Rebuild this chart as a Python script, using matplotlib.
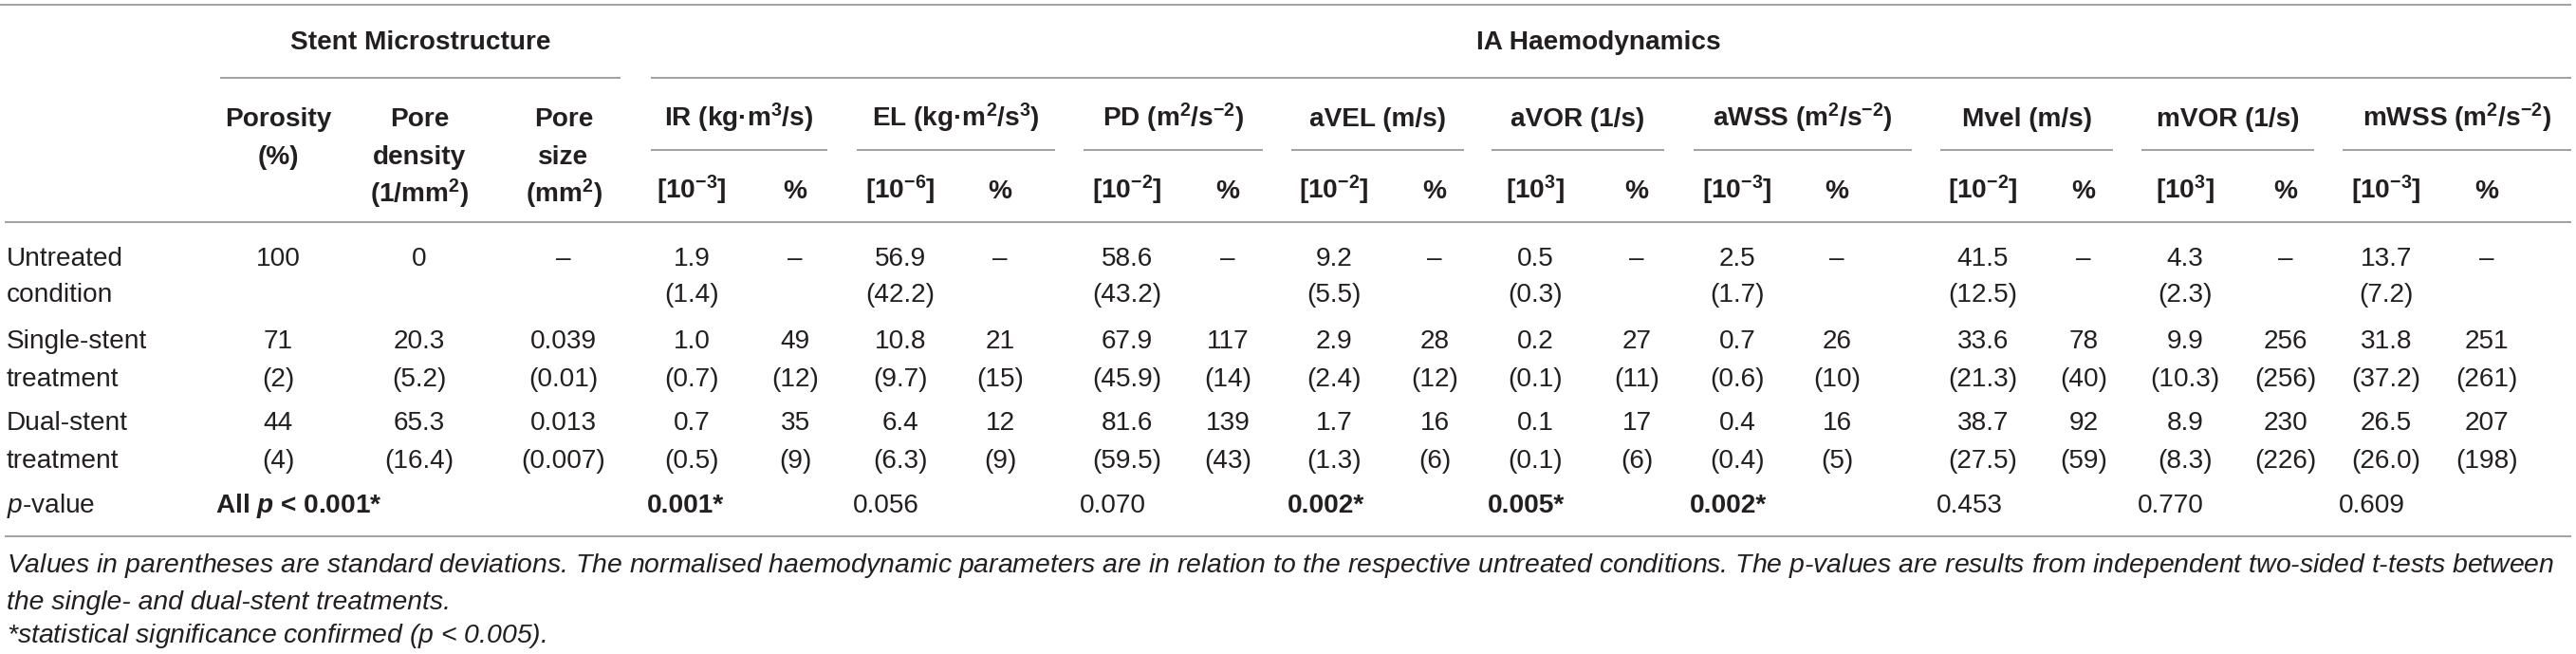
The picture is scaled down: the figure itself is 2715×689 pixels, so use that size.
import matplotlib
matplotlib.use('Agg')
import matplotlib.pyplot as plt

plt.rcParams['font.family'] = ['Liberation Sans', 'DejaVu Sans']
plt.rcParams['mathtext.fontset'] = 'custom'
plt.rcParams['mathtext.rm'] = 'Liberation Sans'
plt.rcParams['mathtext.it'] = 'Liberation Sans:italic'
plt.rcParams['mathtext.bf'] = 'Liberation Sans:bold'
if 'mathtext.bfit' in plt.rcParams:
    plt.rcParams['mathtext.bfit'] = 'Liberation Sans:italic:bold'

# ---- data ----
row_labels = [['Untreated', 'condition'], ['Single-stent', 'treatment'], ['Dual-stent', 'treatment']]

struct_heads = [['Porosity', '(%)'], ['Pore', 'density', '(1/mm$^{\\mathbf{2}}$)'], ['Pore', 'size', '(mm$^{\\mathbf{2}}$)']]
porosity = ['100', '71', '44']
porosity_sd = ['', '(2)', '(4)']
pore_density = ['0', '20.3', '65.3']
pore_density_sd = ['', '(5.2)', '(16.4)']
pore_size = ['\u2013', '0.039', '0.013']
pore_size_sd = ['', '(0.01)', '(0.007)']

params = ['IR (kg\u00b7m$^{\\mathbf{3}}$/s)', 'EL (kg\u00b7m$^{\\mathbf{2}}$/s$^{\\mathbf{3}}$)',
          'PD (m$^{\\mathbf{2}}$/s$^{\\mathbf{-2}}$)', 'aVEL (m/s)', 'aVOR (1/s)',
          'aWSS (m$^{\\mathbf{2}}$/s$^{\\mathbf{-2}}$)', 'Mvel (m/s)', 'mVOR (1/s)',
          'mWSS (m$^{\\mathbf{2}}$/s$^{\\mathbf{-2}}$)']
scales = ['-3', '-6', '-2', '-2', '3', '-3', '-2', '3', '-3']

untreated_mean = [1.9, 56.9, 58.6, 9.2, 0.5, 2.5, 41.5, 4.3, 13.7]
untreated_sd = [1.4, 42.2, 43.2, 5.5, 0.3, 1.7, 12.5, 2.3, 7.2]
single_mean = [1.0, 10.8, 67.9, 2.9, 0.2, 0.7, 33.6, 9.9, 31.8]
single_sd = [0.7, 9.7, 45.9, 2.4, 0.1, 0.6, 21.3, 10.3, 37.2]
single_pct = [49, 21, 117, 28, 27, 26, 78, 256, 251]
single_pct_sd = [12, 15, 14, 12, 11, 10, 40, 256, 261]
dual_mean = [0.7, 6.4, 81.6, 1.7, 0.1, 0.4, 38.7, 8.9, 26.5]
dual_sd = [0.5, 6.3, 59.5, 1.3, 0.1, 0.4, 27.5, 8.3, 26.0]
dual_pct = [35, 12, 139, 16, 17, 16, 92, 230, 207]
dual_pct_sd = [9, 9, 43, 6, 6, 5, 59, 226, 198]
p_values = ['0.001*', '0.056', '0.070', '0.002*', '0.005*', '0.002*', '0.453', '0.770', '0.609']

notes = ['Values in parentheses are standard deviations. The normalised haemodynamic parameters are in relation to the '
         'respective untreated conditions. The $\\mathit{p}$-values are results from independent two-sided t-tests between',
         'the single- and dual-stent treatments.',
         '*statistical significance confirmed ($\\mathit{p}$ < 0.005).']

# ---- layout (pixels) ----
W, H = 2715, 689
FS = 20.2
FS_NOTE = 20.4
TXT = '#231f20'
LINE = '#9a9a9a'
struct_x = [293, 442, 594]
val_x = [729, 949, 1188, 1406, 1618, 1831, 2090, 2303, 2515]
pct_x = [838, 1054, 1294, 1512, 1725, 1936, 2196, 2409, 2621]
under = [(686, 872), (903, 1112), (1142, 1331), (1361, 1543), (1572, 1754),
         (1785, 2015), (2045, 2227), (2257, 2439), (2469, 2710)]
row_y = [(270, 308), (357, 397), (443, 483)]
p_y = 530
off = 10  # centre -> baseline

fig = plt.figure(figsize=(W / 100, H / 100), dpi=100)
ax = fig.add_axes([0, 0, 1, 1])
ax.set_xlim(0, W)
ax.set_ylim(H, 0)
ax.axis('off')


def put(x, y, s, ha='center', bold=False, italic=False, size=FS):
    ax.text(x, y + off, s, ha=ha, va='baseline', fontsize=size, color=TXT,
            fontweight='bold' if bold else 'normal', fontstyle='italic' if italic else 'normal')


def hline(x0, x1, y):
    ax.plot([x0, x1], [y, y], color=LINE, lw=1.3, solid_capstyle='butt')


# rules
hline(0, 2710, 5)
hline(232, 654, 82)
hline(686, 2710, 82)
for a, b in under:
    hline(a, b, 158)
hline(5, 2710, 234)
hline(5, 2710, 565)

# group titles
put(443, 42, 'Stent Microstructure', bold=True)
put(1685, 42, 'IA Haemodynamics', bold=True)

# structure headers
for x, lines in zip(struct_x, struct_heads):
    for k, s in enumerate(lines):
        put(x, 123 + 40 * k, s, bold=True)

# haemodynamic headers
for i, name in enumerate(params):
    a, b = under[i]
    put((a + b) / 2, 123, name, bold=True)
    put(val_x[i], 199, '[10$^{\\mathbf{' + scales[i] + '}}$]', bold=True)
    put(pct_x[i], 199, '%', bold=True)

# row labels
for (y1, y2), lab in zip(row_y, row_labels):
    put(7, y1, lab[0], ha='left')
    put(7, y2, lab[1], ha='left')
put(7, p_y, '$\\mathit{p}$-value', ha='left')

# structure values
struct_vals = [(porosity, porosity_sd), (pore_density, pore_density_sd), (pore_size, pore_size_sd)]
for x, (vals, sds) in zip(struct_x, struct_vals):
    for r, (y1, y2) in enumerate(row_y):
        put(x, y1, vals[r])
        if sds[r]:
            put(x, y2, sds[r])

# haemodynamic values
for i in range(len(params)):
    y1, y2 = row_y[0]
    put(val_x[i], y1, f'{untreated_mean[i]:.1f}')
    put(val_x[i], y2, f'({untreated_sd[i]:.1f})')
    put(pct_x[i], y1, '\u2013')
    for (y1, y2), m, sd, pc, pcsd in [(row_y[1], single_mean, single_sd, single_pct, single_pct_sd),
                                      (row_y[2], dual_mean, dual_sd, dual_pct, dual_pct_sd)]:
        put(val_x[i], y1, f'{m[i]:.1f}')
        put(val_x[i], y2, f'({sd[i]:.1f})')
        put(pct_x[i], y1, f'{pc[i]}')
        put(pct_x[i], y2, f'({pcsd[i]})')
    put(under[i][0] - 4, p_y, p_values[i], ha='left', bold=p_values[i].endswith('*'))

# p-value for stent structure
if 'mathtext.bfit' in plt.rcParams:
    put(227, p_y, 'All $\\mathbfit{p}$ < 0.001*', ha='left', bold=True)
else:
    put(227, p_y, 'All $\\mathit{p}$ < 0.001*', ha='left', bold=True)

# footnotes
for s, y in zip(notes, [593, 632, 667]):
    put(7, y, s, ha='left', italic=True, size=FS_NOTE)

fig.savefig('out.png', dpi=100)
